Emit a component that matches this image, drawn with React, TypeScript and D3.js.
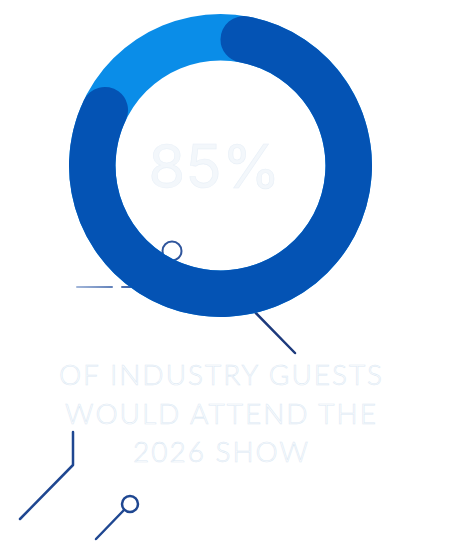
import React from "react";
import * as d3 from "d3";

const categories = ["Would attend", "Would not attend"];
const values = [85, 15];
const labelLines = ["OF INDUSTRY GUESTS", "WOULD ATTEND THE", "2026 SHOW"];
const colors = ["#0453b4", "#0a8de8"];

const W = 452;
const H = 542;
const cx = 220.5;
const cy = 165.5;
const outerR = 151.5;
const innerR = 105;

export default function App() {
  const total = d3.sum(values);
  const angle = d3.scaleLinear().domain([0, total]).range([0, 2 * Math.PI]);
  const track = d3.arc<any>().innerRadius(innerR).outerRadius(outerR)({
    startAngle: 0,
    endAngle: 2 * Math.PI,
  } as any) as string;
  const main = d3
    .arc<any>()
    .innerRadius(innerR)
    .outerRadius(outerR)
    .cornerRadius((outerR - innerR) / 2)({
    startAngle: angle(0),
    endAngle: angle(values[0]),
  } as any) as string;

  const line = "#1f4791";
  return (
    <svg
      width={W}
      height={H}
      style={{ position: "absolute", left: 0, top: 0, background: "#ffffff" }}
    >
      <defs>
        <linearGradient id="fadeH" gradientUnits="userSpaceOnUse" x1="77" x2="130" y1="0" y2="0">
          <stop offset="0" stopColor="#8aa3cf" stopOpacity="0.8" />
          <stop offset="1" stopColor="#3d63a8" stopOpacity="1" />
        </linearGradient>
      </defs>
      {/* decorations */}
      <g fill="none" strokeLinecap="round">
        <circle cx={172} cy={251} r={9.5} stroke="#2f559c" strokeWidth={2} />
        <line x1={165} y1={258} x2={145} y2={278} stroke="#2f559c" strokeWidth={2} />
        <line x1={77} y1={287} x2={112} y2={287} stroke="url(#fadeH)" strokeWidth={2} />
        <line x1={122} y1={287} x2={140} y2={287} stroke="url(#fadeH)" strokeWidth={2} />
        <line x1={250} y1={307} x2={295} y2={353} stroke="#1d3a7c" strokeWidth={2.5} />
        <polyline
          points="73,432 73,465 20,519"
          stroke={line}
          strokeWidth={2.5}
          strokeLinejoin="round"
        />
        <circle cx={130} cy={504} r={8} stroke={line} strokeWidth={2.5} />
        <line x1={124} y1={510} x2={96} y2={539} stroke={line} strokeWidth={2.5} />
      </g>
      <g transform={`translate(${cx},${cy})`}>
        <path d={track} fill={colors[1]} />
        <path d={main} fill={colors[0]} />
        <text
          x={-6}
          y={22}
          textAnchor="middle"
          fontFamily="Inter, 'Open Sans', sans-serif"
          fontWeight={400}
          fontSize={60}
          fill="#f3f7fb"
          stroke="#e9f0f7"
          strokeWidth={0.6}
        >
          {values[0]}%
        </text>
      </g>
      <g
        fontFamily="Lato, 'Open Sans', sans-serif"
        fontWeight={300}
        fontSize={28}
        textAnchor="middle"
        fill="#ffffff"
        stroke="#dce9f4"
        strokeWidth={0.6}
        letterSpacing={2}
      >
        {labelLines.map((t, i) => (
          <text key={t} x={cx + 1} y={385 + i * 38.5}>
            {t}
          </text>
        ))}
      </g>
    </svg>
  );
}
